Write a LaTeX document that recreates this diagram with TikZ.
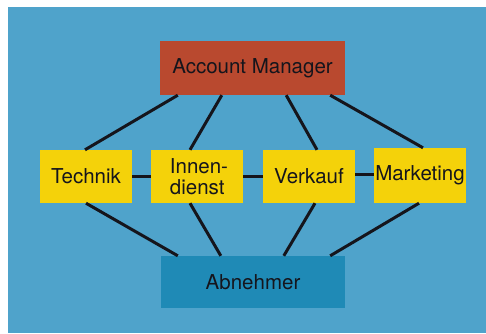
\documentclass[tikz,border=0pt]{standalone}
\usepackage{fontspec}
\setmainfont{TeX Gyre Heros}
\definecolor{bgblue}{HTML}{4FA3CB}
\definecolor{amred}{HTML}{B9492F}
\definecolor{boxyellow}{HTML}{F4D20A}
\definecolor{abnblue}{HTML}{1F8AB6}
\definecolor{ink}{HTML}{15151C}
\begin{document}
\begin{tikzpicture}[x=1pt,y=1pt,
  box/.style={rectangle, inner sep=0pt, text=ink, font=\fontsize{20.5}{20.5}\selectfont},
  ybox/.style={box, fill=boxyellow, minimum width=92pt, minimum height=53pt},
  link/.style={draw=ink, line width=3pt}]
\useasboundingbox (0,0) rectangle (486,333);
\fill[white] (0,0) rectangle (486,333);
\fill[bgblue] (8,0) rectangle (486,326);
\node[box, fill=amred, minimum width=185pt, minimum height=54pt] (am) at (252.5,265) {Account Manager};
\node[ybox] (tech) at (86,156.5) {Technik};
\node[ybox, align=left] (innen) at (197,156.5) {\hspace*{4pt}Innen-\\\hspace*{4pt}dienst};
\node[ybox] (verk) at (309,156.5) {Verkauf};
\node[ybox, minimum height=55pt] (mark) at (420,157.5) {Marketing};
\node[box, fill=abnblue, minimum width=184pt, minimum height=52pt] (abn) at (253,51) {Abnehmer};
% connectors top
\draw[link] ([xshift=18pt]am.south west) -- ([xshift=-1pt]tech.north);
\draw[link] ([xshift=62pt]am.south west) -- ([xshift=-7pt]innen.north);
\draw[link] ([xshift=-59pt]am.south east) -- ([xshift=8pt]verk.north);
\draw[link] ([xshift=-15pt]am.south east) -- ([xshift=3pt]mark.north);
% connectors bottom
\draw[link] (tech.south) -- ([xshift=17pt]abn.north west);
\draw[link] ([xshift=-7pt]innen.south) -- ([xshift=60pt]abn.north west);
\draw[link] ([xshift=6pt]verk.south) -- ([xshift=123pt]abn.north west);
\draw[link] ([xshift=-1pt]mark.south) -- ([xshift=-15pt]abn.north east);
% horizontal
\draw[link] (tech.east) -- (innen.west);
\draw[link] (innen.east) -- (verk.west);
\draw[link] ([yshift=2pt]verk.east) -- ([yshift=1pt]mark.west);
\end{tikzpicture}
\end{document}
